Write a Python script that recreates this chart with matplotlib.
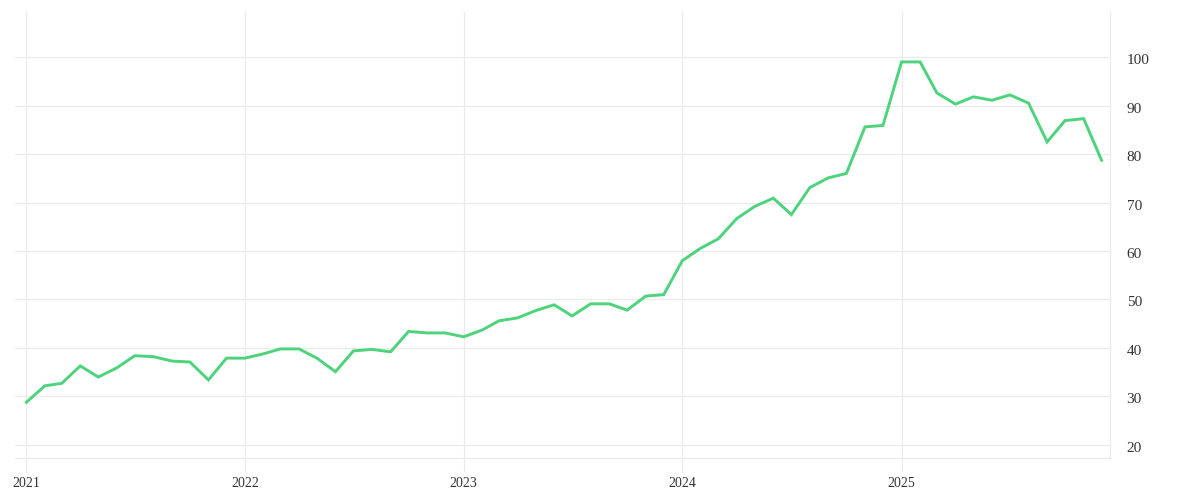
import numpy as np
import pandas as pd
import matplotlib
matplotlib.use('Agg')
import matplotlib.pyplot as plt
import matplotlib.transforms as mtransforms

months = pd.date_range('2021-01-01', periods=60, freq='MS')
values = [28.8, 32.2, 32.7, 36.3, 34.0, 35.9, 38.4, 38.2, 37.3, 37.1, 33.4, 37.9,
          37.9, 38.8, 39.8, 39.8, 37.9, 35.1, 39.4, 39.7, 39.2, 43.4, 43.1, 43.1,
          42.3, 43.7, 45.6, 46.2, 47.7, 48.9, 46.6, 49.1, 49.1, 47.8, 50.7, 51.0,
          58.0, 60.6, 62.5, 66.7, 69.2, 70.9, 67.5, 73.1, 75.1, 76.0, 85.6, 85.9,
          99.0, 99.0, 92.6, 90.3, 91.8, 91.1, 92.2, 90.5, 82.5, 86.9, 87.3, 78.7]
year_ticks = pd.to_datetime(['2021-01-01', '2022-01-01', '2023-01-01', '2024-01-01', '2025-01-01'])
year_labels = ['2021', '2022', '2023', '2024', '2025']
y_ticks = [20, 30, 40, 50, 60, 70, 80, 90, 100]

plt.rcParams['font.family'] = ['Liberation Serif', 'DejaVu Serif']

fig = plt.figure(figsize=(12, 5), dpi=100)
ax = fig.add_axes([15/1200, 42/500, 1095/1200, 446/500])

grid_c = '#ebebeb'
ax.plot(months, values, color='#4cd37b', lw=2.1, solid_joinstyle='miter', zorder=3)

ax.set_xlim(pd.Timestamp('2020-12-13'), pd.Timestamp('2025-12-15'))
ax.set_ylim(17.3, 109.3)

ax.set_xticks(year_ticks)
ax.set_xticklabels(year_labels)
ax.set_yticks(y_ticks)
ax.yaxis.tick_right()
ax.grid(True, color=grid_c, lw=0.9)

for s in ['top', 'left']:
    ax.spines[s].set_visible(False)
ax.spines['bottom'].set_color(grid_c)
ax.spines['right'].set_color(grid_c)
ax.spines['bottom'].set_linewidth(0.9)
ax.spines['right'].set_linewidth(0.9)

ax.tick_params(axis='x', length=10, color=grid_c, width=0.9, labelsize=10, labelcolor='#333333', pad=4)
ax.tick_params(axis='y', length=0, labelsize=11, labelcolor='#333333', pad=12)
# nudge the right-hand labels down a touch
shift = mtransforms.ScaledTranslation(0, -2/100, fig.dpi_scale_trans)
for lab in ax.get_yticklabels():
    lab.set_transform(lab.get_transform() + shift)

plt.savefig('out.png', dpi=100)
